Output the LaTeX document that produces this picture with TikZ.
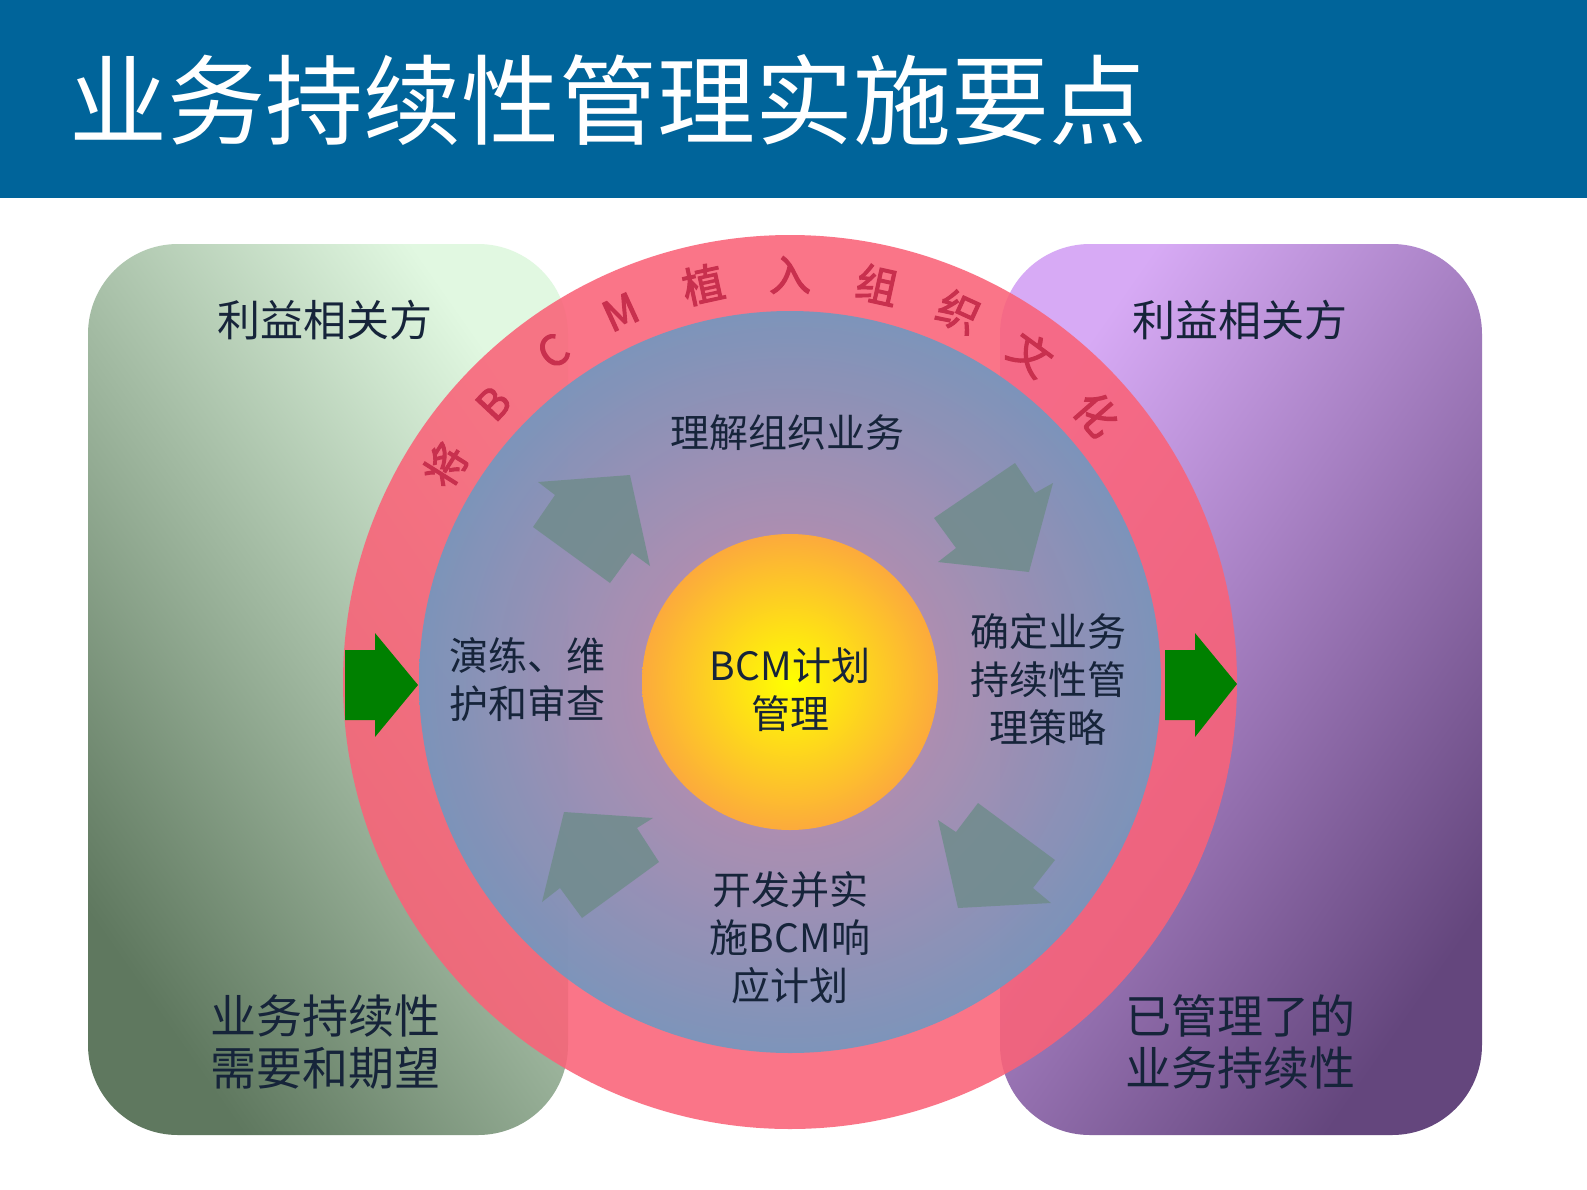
\documentclass[tikz,border=0pt]{standalone}
\usepackage{fontspec}
\setmainfont{Noto Sans CJK SC}
\newfontfamily\arcfont[FakeBold=2.5]{Noto Sans CJK SC}
\usetikzlibrary{shapes.geometric}
\definecolor{hdr}{RGB}{0,100,154}
\definecolor{txt}{RGB}{22,36,58}
\definecolor{ring}{RGB}{250,98,120}
\definecolor{arctxt}{RGB}{200,48,78}
\definecolor{garrow}{RGB}{112,140,140}
\tikzset{
  lbl/.style={text=txt,align=center,font=\fontsize{21.5}{26}\selectfont},
  big/.style={text=txt,align=center,font=\fontsize{23}{26}\selectfont},
  cyc/.style={text=txt,align=center,font=\fontsize{19.5}{24}\selectfont},
  gar/.style={fill=garrow,fill opacity=0.85},
  grar/.style={fill=green!50!black},
}
\begin{document}
\begin{tikzpicture}[x=0.5pt,y=-0.5pt]
\useasboundingbox (0,0) rectangle (1587,1190);
\fill[white] (0,0) rectangle (1587,1190);
\fill[hdr] (0,0) rectangle (1587,198);
\node[anchor=west,text=white,font=\fontsize{49}{52}\selectfont] (title) at (62,100) {业务持续性管理实施要点};
% side boxes
\shade[rounded corners=45pt,top color={rgb,255:red,225;green,248;blue,225},bottom color={rgb,255:red,95;green,120;blue,95},shading angle=-55] (88,244) rectangle (568,1135);
\shade[rounded corners=45pt,top color={rgb,255:red,215;green,170;blue,245},bottom color={rgb,255:red,100;green,70;blue,125},shading angle=55] (1000,244) rectangle (1482,1135);
% ring
\fill[ring,fill opacity=0.88] (790,682) circle[radius=447];
\shade[inner color={rgb,255:red,200;green,140;blue,175},outer color={rgb,255:red,112;green,152;blue,192},opacity=0.9] (790,682) circle[radius=371];
\shade[inner color={rgb,255:red,255;green,255;blue,0},outer color={rgb,255:red,252;green,170;blue,60}] (790,682) circle[radius=148];
% arc text
\foreach \a/\c in {147.8/将,136.8/B,125.6/C,114.6/M,102.3/植,90/入,77.6/组,65.5/织,53.7/文,41.2/化}{
  \node[text=arctxt,font=\arcfont\fontsize{21}{21}\selectfont,rotate=\a-90] at ({790+407*cos(\a)},{682-407*sin(\a)}) {\c};
}
% gray arrows
\fill[gar] (538,482)--(630,475)--(650,566)--(632,553)--(610,583)--(533,527)--(555,495)--cycle;
\fill[gar] (1015,463)--(1035,493)--(1053,483)--(1029,572)--(938,562)--(956,548)--(934,518)--cycle;
\fill[gar] (564,812)--(653,818)--(637,828)--(659,862)--(582,918)--(560,888)--(542,902)--cycle;
\fill[gar] (978,803)--(1055,860)--(1033,888)--(1051,903)--(958,908)--(938,820)--(956,832)--cycle;
% green arrows
\fill[grar] (345,650)--(375,650)--(375,633)--(418,685)--(375,737)--(375,720)--(345,720)--cycle;
\fill[grar] (1165,650)--(1195,650)--(1195,633)--(1237,684)--(1195,737)--(1195,720)--(1165,720)--cycle;
% texts
\node[lbl] (l1) at (325,320) {利益相关方};
\node[lbl] (r1) at (1240,320) {利益相关方};
\node[big] (l2) at (325,1042) {业务持续性\\需要和期望};
\node[big] (r2) at (1240,1042) {已管理了的\\业务持续性};
\node[cyc] (top) at (787,433) {理解组织业务};
\node[cyc] (left) at (527,680) {演练、维\\护和审查};
\node[cyc] (right) at (1048,680) {确定业务\\持续性管\\理策略};
\node[cyc] (bot) at (790,938) {开发并实\\施BCM响\\应计划};
\node[cyc] (ctr) at (790,690) {BCM计划\\管理};
\end{tikzpicture}
\end{document}
